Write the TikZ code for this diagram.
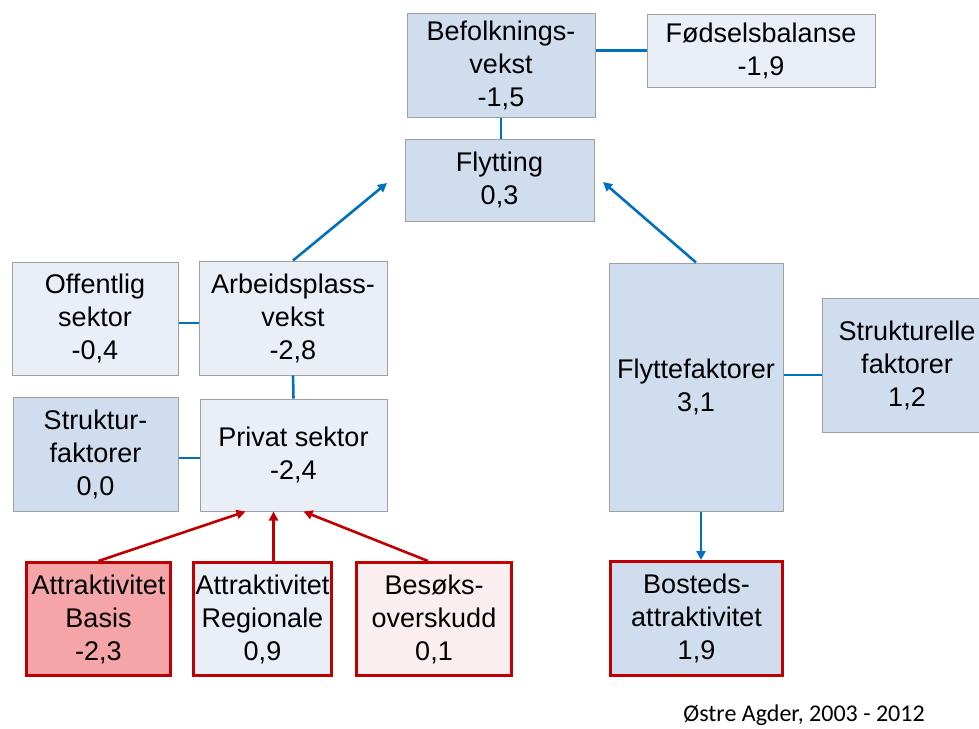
\documentclass[tikz,border=0pt]{standalone}
\usepackage{fontspec}
\setmainfont{Liberation Sans}
\newfontfamily\calfont{Carlito}
\usetikzlibrary{arrows.meta,calc}
\definecolor{fdark}{HTML}{D0DDEE}
\definecolor{flight}{HTML}{E9EEF7}
\definecolor{fbasis}{HTML}{F5A4A7}
\definecolor{fbesok}{HTML}{FBEEF1}
\definecolor{edgegray}{HTML}{A0A0A0}
\definecolor{lblue}{HTML}{0070C0}
\definecolor{lred}{HTML}{C00000}
\begin{document}
\begin{tikzpicture}[x=1pt,y=-1pt,
 box/.style={draw=edgegray, line width=1pt, align=center, inner sep=0pt, font=\fontsize{27}{33}\selectfont, execute at begin node={\rule{0pt}{25.5pt}}},
 rbox/.style={box, draw=lred, line width=3pt},
 bl/.style={draw=lblue, line width=2.6pt},
 rl/.style={draw=lred, line width=2.6pt},
 tip/.style={-{Triangle[length=9pt,width=9pt]}}
]
\useasboundingbox (0,0) rectangle (979,728);
\clip (0,0) rectangle (979,728);
\node[box, fill=fdark, minimum width=188pt, minimum height=104pt] (befolk) at (501,65) {Befolknings-\\vekst\\-1,5};
\node[box, fill=flight, minimum width=228pt, minimum height=73pt] (fodsel) at (761,50.5) {Fødselsbalanse\\-1,9};
\node[box, fill=fdark, minimum width=189pt, minimum height=82pt] (flytting) at (499.5,180) {Flytting\\0,3};
\node[box, fill=flight, minimum width=166pt, minimum height=113pt] (off) at (95,318.5) {Offentlig\\sektor\\-0,4};
\node[box, fill=flight, minimum width=188pt, minimum height=114pt] (arb) at (293,318) {Arbeidsplass-\\vekst\\-2,8};
\node[box, fill=fdark, minimum width=165pt, minimum height=114pt] (struktur) at (95.5,454) {Struktur-\\faktorer\\0,0};
\node[box, fill=flight, minimum width=187pt, minimum height=112pt] (priv) at (293.5,455) {Privat sektor\\-2,4};
\node[rbox, fill=fbasis, minimum width=144pt, minimum height=113pt] (basis) at (98.5,619) {Attraktivitet\\Basis\\-2,3};
\node[rbox, fill=flight, minimum width=138pt, minimum height=113pt] (regional) at (262.5,619) {Attraktivitet\\Regionale\\0,9};
\node[rbox, fill=fbesok, minimum width=155pt, minimum height=113pt] (besok) at (434,619) {Besøks-\\overskudd\\0,1};
\node[box, fill=fdark, minimum width=174pt, minimum height=248pt] (flyttef) at (696,387) {Flyttefaktorer\\3,1};
\node[box, fill=fdark, minimum width=170pt, minimum height=134pt] (strukturelle) at (907,365) {Strukturelle\\faktorer\\1,2};
\node[rbox, fill=fdark, minimum width=172pt, minimum height=114pt] (bosted) at (696.5,618.5) {Bosteds-\\attraktivitet\\1,9};
\node[font=\calfont\fontsize{24}{28}\selectfont, anchor=base, inner sep=0pt] (src) at (804,721.5) {Østre Agder, 2003 - 2012};
\coordinate (tipL) at (387,183);
\coordinate (tipR) at (603,182);
\draw[bl] (fodsel.west) -- (fodsel.west -| befolk.east);
\draw[bl] (befolk.south) -- (befolk.south |- flytting.north);
\draw[bl,tip] (arb.north) -- (tipL);
\draw[bl,tip] (flyttef.north) -- (tipR);
\draw[bl] ([yshift=-4.5pt]off.east) -- ([yshift=-4.5pt]off.east -| arb.west);
\draw[bl] (arb.south) -- (priv.north);
\draw[bl] ([yshift=-4pt]struktur.east) -- ([yshift=-4pt]struktur.east -| priv.west);
\draw[rl,tip] (basis.north) -- ([xshift=-48pt]priv.south);
\draw[rl,tip] ([xshift=11pt]regional.north) -- ([xshift=-20pt]priv.south);
\draw[rl,tip] ([xshift=-6pt]besok.north) -- ([xshift=10pt]priv.south);
\draw[bl] ([yshift=12pt]flyttef.east) -- ([yshift=12pt]flyttef.east -| strukturelle.west);
\draw[bl,tip] ([xshift=5pt]flyttef.south) -- ([xshift=5pt]flyttef.south |- bosted.north);
\end{tikzpicture}
\end{document}
